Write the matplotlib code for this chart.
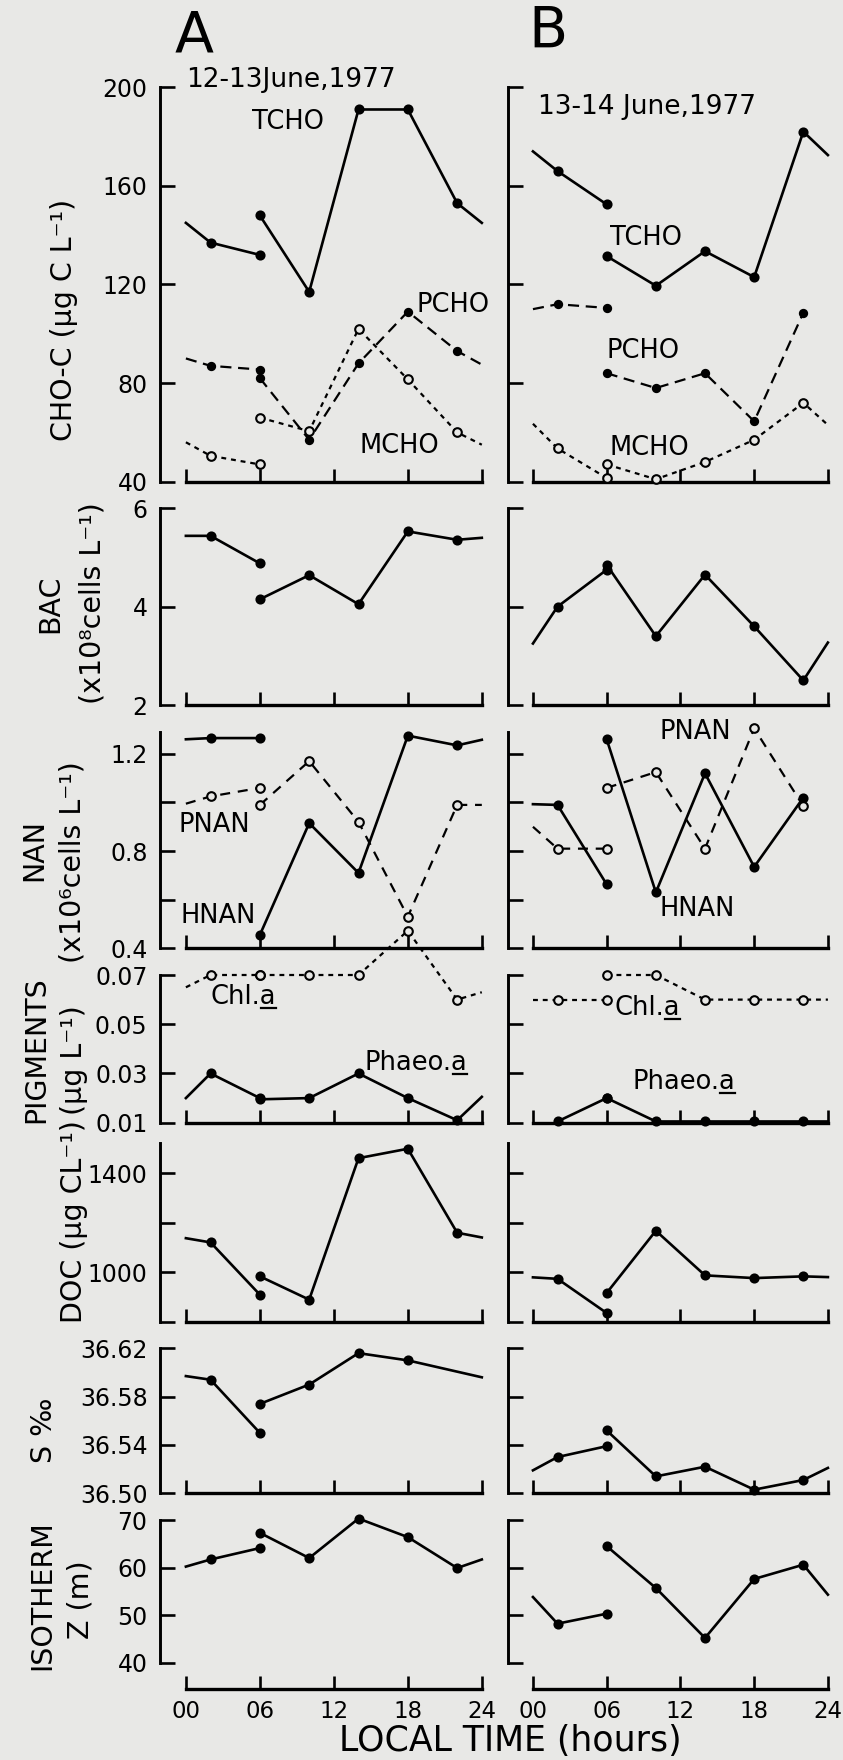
import numpy as np
import matplotlib
matplotlib.use("Agg")
import matplotlib.pyplot as plt
from matplotlib.ticker import FixedLocator, FixedFormatter
from matplotlib.lines import Line2D

plt.rcParams['font.family'] = ['DejaVu Sans']

# ---------------- data ----------------
seg1_hours = [0, 2, 6]
seg2_hours = [6, 10, 14, 18, 22, 24]
x_ticks = [0, 6, 12, 18, 24]
x_ticklabels = ["00", "06", "12", "18", "24"]
nan = np.nan

# A: 12-13 June 1977 ; B: 13-14 June 1977
tcho_A1 = [145, 137, 132];      tcho_A2 = [148, 117, 191, 191, 153, 145]
pcho_A1 = [90, 87, 85.5];       pcho_A2 = [82, 57, 88, 109, 93, 87.5]
mcho_A1 = [56, 50.5, 47];       mcho_A2 = [66, 60.5, 102, 81.5, 60, 55]
tcho_B1 = [174, 166, 152.5];    tcho_B2 = [131.5, 119.5, 133.5, 123, 182, 172.5]
pcho_B1 = [110, 112, 110.5];    pcho_B2 = [84, 78, 84, 64.5, 108.5, nan]
mcho_B1 = [63.5, 53.5, 41.5];   mcho_B2 = [47, 41, 48, 57, 72, 63]

bac_A1 = [5.44, 5.44, 4.88];    bac_A2 = [4.15, 4.64, 4.05, 5.53, 5.36, 5.40]
bac_B1 = [3.25, 4.0, 4.75];     bac_B2 = [4.85, 3.4, 4.65, 3.6, 2.5, 3.27]

hnan_A1 = [1.26, 1.265, 1.265]; hnan_A2 = [0.455, 0.915, 0.71, 1.275, 1.235, 1.258]
pnan_A1 = [0.995, 1.025, 1.06]; pnan_A2 = [0.99, 1.17, 0.92, 0.53, 0.99, 0.99]
hnan_B1 = [0.993, 0.99, 0.663]; hnan_B2 = [1.26, 0.63, 1.12, 0.735, 1.02, nan]
pnan_B1 = [0.90, 0.81, 0.81];   pnan_B2 = [1.06, 1.125, 0.81, 1.305, 0.985, nan]

chl_A1 = [0.065, 0.07, 0.07];   chl_A2 = [0.07, 0.07, 0.07, 0.088, 0.06, 0.063]
pha_A1 = [0.02, 0.03, 0.02];    pha_A2 = [0.0195, 0.02, 0.03, 0.02, 0.011, 0.0205]
chl_B1 = [0.06, 0.06, 0.06];    chl_B2 = [0.07, 0.07, 0.06, 0.06, 0.06, 0.06]
pha_B1 = [nan, 0.0105, 0.02];   pha_B2 = [0.02, 0.0105, 0.0105, 0.0105, 0.0105, 0.0105]

doc_A1 = [1137, 1120, 909];     doc_A2 = [983, 889, 1460, 1498, 1159, 1140]
doc_B1 = [979, 973, 835];       doc_B2 = [916, 1167, 987, 976, 983, 980]

sal_A1 = [36.597, 36.594, 36.550]; sal_A2 = [36.574, 36.590, 36.616, 36.610, nan, 36.596]
sal_B1 = [36.519, 36.530, 36.539]; sal_B2 = [36.552, 36.514, 36.522, 36.503, 36.511, 36.521]

iso_A1 = [60.2, 61.7, 64.1];    iso_A2 = [67.3, 62.0, 70.3, 66.4, 59.9, 61.7]
iso_B1 = [53.8, 48.2, 50.3];    iso_B2 = [64.5, 55.7, 45.2, 57.6, 60.6, 54.3]

cho_ticks = [40, 80, 120, 160, 200]; cho_labels = ["40", "80", "120", "160", "200"]
bac_ticks = [2, 4, 6];               bac_labels = ["2", "4", "6"]
nan_ticks = [0.4, 0.6, 0.8, 1.0, 1.2]; nan_labels = ["0.4", "", "0.8", "", "1.2"]
pig_ticks = [0.01, 0.03, 0.05, 0.07]; pig_labels = ["0.01", "0.03", "0.05", "0.07"]
doc_ticks = [800, 1000, 1200, 1400]; doc_labels = ["", "1000", "", "1400"]
sal_ticks = [36.50, 36.54, 36.58, 36.62]; sal_labels = ["36.50", "36.54", "36.58", "36.62"]
iso_ticks = [40, 50, 60, 70];        iso_labels = ["40", "50", "60", "70"]

# ---------------- layout ----------------
W, H, DPI = 843, 1760, 100
BG = '#e8e8e6'
fig = plt.figure(figsize=(W / DPI, H / DPI), dpi=DPI, facecolor=BG)

cols = {'A': (160, -2.1, 24.3, 12.33), 'B': (508, -2.03, 24.3, 12.29)}
rows = {
    'cho': (87.3, 481.7, (40, 200), (40, 200), cho_ticks, cho_labels),
    'bac': (508.3, 705.0, (2, 6), (2, 6), bac_ticks, bac_labels),
    'nan': (732.0, 948.3, (0.4, 1.29), (0.4, 1.29), nan_ticks, nan_labels),
    'pig': (975.0, 1122.7, (0.01, 0.07), (0.01, 0.07), pig_ticks, pig_labels),
    'doc': (1143.3, 1321.7, (800, 1520), (800, 1520), doc_ticks, doc_labels),
    'sal': (1348.3, 1493.3, (36.50, 36.62), (36.50, 36.62), sal_ticks, sal_labels),
    'iso': (1520.0, 1689.3, (34.4, 70), (40, 70), iso_ticks, iso_labels),
}
order = ['cho', 'bac', 'nan', 'pig', 'doc', 'sal', 'iso']

FS_TICK = 17
axes = {}
for c, (lpx, xl, xr, sc) in cols.items():
    for r in order:
        top, bot, ylim, sb, ticks, labels = rows[r]
        wpx = (xr - xl) * sc
        ax = fig.add_axes([lpx / W, 1 - bot / H, wpx / W, (bot - top) / H])
        ax.patch.set_alpha(0)
        ax.set_xlim(xl, xr)
        ax.set_ylim(*ylim)
        for s in ('top', 'right'):
            ax.spines[s].set_visible(False)
        ax.spines['left'].set_bounds(*sb)
        ax.spines['bottom'].set_bounds(0, 24)
        ax.spines['left'].set_linewidth(2.1)
        ax.spines['bottom'].set_linewidth(2.4)
        ax.yaxis.set_major_locator(FixedLocator(ticks))
        ax.yaxis.set_major_formatter(FixedFormatter(labels if c == 'A' else [''] * len(ticks)))
        ax.xaxis.set_major_locator(FixedLocator(x_ticks))
        ax.xaxis.set_major_formatter(FixedFormatter(x_ticklabels if r == 'iso' else [''] * 5))
        ax.tick_params(axis='y', direction='in', length=11, width=1.9, pad=9, labelsize=FS_TICK)
        ax.tick_params(axis='x', direction='in', length=9.5, width=1.9, pad=8, labelsize=16.5)
        axes[(r, c)] = ax

STY = {
    'solid': dict(dashes=None, mfc='k', ms=5.8),
    'dash': dict(dashes=(5, 3), mfc='k', ms=5.2),
    'dashopen': dict(dashes=(4.5, 3.5), mfc=BG, ms=6.2),
    'dotopen': dict(dashes=(2.2, 2.2), mfc=BG, ms=6.2),
}


def series(ax, v1, v2, style):
    st = STY[style]
    for hrs, vals in ((seg1_hours, v1), (seg2_hours, v2)):
        h = np.array(hrs, float)
        y = np.array(vals, float)
        m = np.isfinite(y)
        kw = dict(color='k', lw=1.9 if st['dashes'] is None else 1.6, clip_on=False, zorder=2)
        if st['dashes'] is None:
            ax.plot(h[m], y[m], ls='-', **kw)
        else:
            ax.plot(h[m], y[m], ls='--', dashes=st['dashes'], **kw)
        mk = m & (h > 0) & (h < 24)
        ax.plot(h[mk], y[mk], ls='none', marker='o', ms=st['ms'], mfc=st['mfc'],
                mec='k', mew=1.5, clip_on=False, zorder=3)


data = {
    'A': [('cho', tcho_A1, tcho_A2, 'solid'), ('cho', pcho_A1, pcho_A2, 'dash'),
          ('cho', mcho_A1, mcho_A2, 'dotopen'),
          ('bac', bac_A1, bac_A2, 'solid'),
          ('nan', hnan_A1, hnan_A2, 'solid'), ('nan', pnan_A1, pnan_A2, 'dashopen'),
          ('pig', chl_A1, chl_A2, 'dotopen'), ('pig', pha_A1, pha_A2, 'solid'),
          ('doc', doc_A1, doc_A2, 'solid'), ('sal', sal_A1, sal_A2, 'solid'),
          ('iso', iso_A1, iso_A2, 'solid')],
    'B': [('cho', tcho_B1, tcho_B2, 'solid'), ('cho', pcho_B1, pcho_B2, 'dash'),
          ('cho', mcho_B1, mcho_B2, 'dotopen'),
          ('bac', bac_B1, bac_B2, 'solid'),
          ('nan', hnan_B1, hnan_B2, 'solid'), ('nan', pnan_B1, pnan_B2, 'dashopen'),
          ('pig', chl_B1, chl_B2, 'dotopen'), ('pig', pha_B1, pha_B2, 'solid'),
          ('doc', doc_B1, doc_B2, 'solid'), ('sal', sal_B1, sal_B2, 'solid'),
          ('iso', iso_B1, iso_B2, 'solid')],
}
for c, lst in data.items():
    for r, v1, v2, st in lst:
        series(axes[(r, c)], v1, v2, st)

# ---------------- in-panel labels ----------------
FS_LAB = 18.5
labels_in = [
    ('cho', 'A', "TCHO", 5.4, 186), ('cho', 'A', "PCHO", 18.7, 111.5), ('cho', 'A', "MCHO", 14.1, 54.5),
    ('cho', 'B', "TCHO", 6.3, 139), ('cho', 'B', "PCHO", 6.0, 93), ('cho', 'B', "MCHO", 6.2, 53.5),
    ('nan', 'A', "PNAN", -0.6, 0.907), ('nan', 'A', "HNAN", -0.4, 0.532),
    ('nan', 'B', "PNAN", 10.3, 1.288), ('nan', 'B', "HNAN", 10.3, 0.56),
]
for r, c, s, x, y in labels_in:
    axes[(r, c)].text(x, y, s, fontsize=FS_LAB, ha='left', va='center', clip_on=False)

axes[('cho', 'A')].text(0, 203, "12-13June,1977", fontsize=19, ha='left', va='center')
axes[('cho', 'B')].text(0.4, 192, "13-14 June,1977", fontsize=19, ha='left', va='center')

under = [('pig', 'A', "Chl.a", 2.0, 0.0612), ('pig', 'A', "Phaeo.a", 14.5, 0.0343),
         ('pig', 'B', "Chl.a", 6.6, 0.0566), ('pig', 'B', "Phaeo.a", 8.1, 0.0267)]
utexts = []
for r, c, s, x, y in under:
    ax = axes[(r, c)]
    t = ax.text(x, y, s, fontsize=FS_LAB, ha='left', va='center')
    utexts.append((ax, t, x, y, s))

# ---------------- figure texts ----------------
fig.text(194 / W, 1 - 37 / H, "A", fontsize=41, ha='center', va='center')
fig.text(548 / W, 1 - 32 / H, "B", fontsize=41, ha='center', va='center')
fig.text(510 / W, 1 - 1741 / H, "LOCAL TIME (hours)", fontsize=25, ha='center', va='center')

FS_Y = 20.5
ylabs = [
    ("CHO-C (μg C L⁻¹)", 64, 320),
    ("BAC", 50, 604), ("(x10⁸cells L⁻¹)", 93, 603),
    ("NAN", 34, 850), ("(x10⁶cells L⁻¹)", 72, 862),
    ("PIGMENTS", 36, 1050), ("(μg L⁻¹)", 74, 1060),
    ("DOC (μg CL⁻¹)", 74, 1222),
    ("S ‰", 44, 1430),
    ("ISOTHERM", 42, 1595), ("Z (m)", 80, 1600),
]
for s, x, y in ylabs:
    fig.text(x / W, 1 - y / H, s, fontsize=FS_Y, rotation=90, ha='center', va='center')

# underline the trailing "a"
fig.canvas.draw()
renderer = fig.canvas.get_renderer()
inv = fig.transFigure.inverted()
for ax, t, x, y, s in utexts:
    full = t.get_window_extent(renderer)
    tmp = ax.text(x, y, s[:-1], fontsize=FS_LAB, ha='left', va='center')
    pre = tmp.get_window_extent(renderer)
    tmp.remove()
    (x0, y0) = inv.transform((pre.x1 + 1, full.y0 + 2))
    (x1, _) = inv.transform((full.x1, full.y0 + 2))
    fig.add_artist(Line2D([x0, x1], [y0, y0], color='k', lw=1.6, transform=fig.transFigure))

fig.savefig("out.png", dpi=DPI, facecolor=BG)
